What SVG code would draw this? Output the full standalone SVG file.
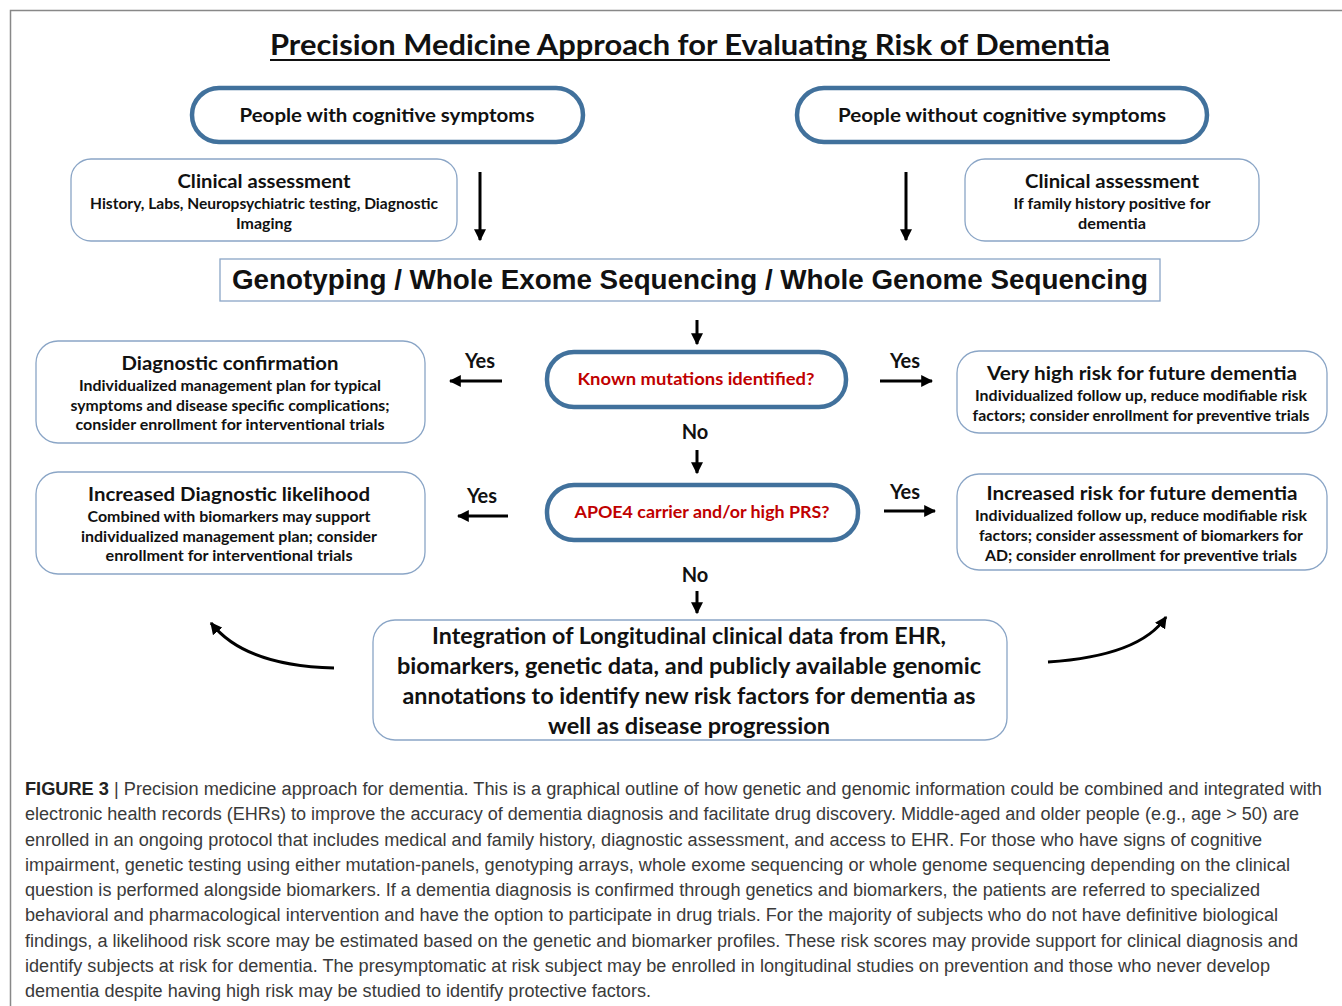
<svg xmlns="http://www.w3.org/2000/svg" width="1342" height="1006" viewBox="0 0 1342 1006">
<defs>
<style>
.c{font-family:Lato,"Open Sans","Liberation Sans",sans-serif;font-weight:bold;fill:#111;text-anchor:middle}
.red{fill:#c00000}
.pill{fill:#fff;stroke:#41719c;stroke-width:4.5}
.box{fill:#fff;stroke:#8aa5c6;stroke-width:1.3}
.arw{stroke:#000;stroke-width:3;fill:none}
.cap{font-family:"Liberation Sans",Arial,sans-serif;font-size:18px;fill:#3a3a3a}
</style>
<marker id="ah" viewBox="0 0 10 10" refX="9" refY="5" markerWidth="4" markerHeight="4" orient="auto" markerUnits="strokeWidth">
<path d="M0,0 L10,5 L0,10 Z" fill="#000"/>
</marker>
</defs>
<rect width="1342" height="1006" fill="#fff"/>
<path d="M10.5,1006 V10.5 H1342" fill="none" stroke="#888" stroke-width="1.5"/>

<g id="title">
<text class="c" x="690" y="55" font-size="29" textLength="840" lengthAdjust="spacingAndGlyphs">Precision Medicine Approach for Evaluating Risk of Dementia</text>
<line x1="270" y1="60" x2="1110" y2="60" stroke="#111" stroke-width="2"/>
</g>

<g id="with-symptoms">
<rect class="pill" x="192" y="88" width="391" height="54" rx="27"/>
<text class="c" x="387" y="122" font-size="19" textLength="295" lengthAdjust="spacingAndGlyphs">People with cognitive symptoms</text>
</g>
<g id="without-symptoms">
<rect class="pill" x="797" y="88" width="410" height="54" rx="27"/>
<text class="c" x="1002" y="122" font-size="19" textLength="328" lengthAdjust="spacingAndGlyphs">People without cognitive symptoms</text>
</g>

<g id="clinical-left">
<rect class="box" x="71" y="159" width="386" height="82" rx="20"/>
<text class="c" x="264" y="188" font-size="19" textLength="173" lengthAdjust="spacingAndGlyphs">Clinical  assessment</text>
<text class="c" x="264" y="209" font-size="14.5" textLength="348" lengthAdjust="spacingAndGlyphs">History, Labs, Neuropsychiatric testing, Diagnostic</text>
<text class="c" x="264" y="229" font-size="14.5" textLength="56" lengthAdjust="spacingAndGlyphs">Imaging</text>
</g>
<g id="clinical-right">
<rect class="box" x="965" y="159" width="294" height="82" rx="20"/>
<text class="c" x="1112" y="188" font-size="19" textLength="174" lengthAdjust="spacingAndGlyphs">Clinical  assessment</text>
<text class="c" x="1112" y="209" font-size="14.5" textLength="197" lengthAdjust="spacingAndGlyphs">If family history positive  for</text>
<text class="c" x="1112" y="229" font-size="14.5" textLength="68" lengthAdjust="spacingAndGlyphs">dementia</text>
</g>

<g id="sequencing">
<rect x="220" y="259" width="940" height="42" fill="#fff" stroke="#8aa5c6" stroke-width="1.3"/>
<text x="690" y="289" font-family="'Liberation Sans',Arial,sans-serif" font-weight="bold" font-size="28" fill="#111" text-anchor="middle" textLength="916" lengthAdjust="spacingAndGlyphs">Genotyping / Whole Exome Sequencing / Whole Genome Sequencing</text>
</g>

<g id="known-mutations">
<rect class="pill" x="547" y="352" width="299" height="55" rx="27" stroke-width="5"/>
<text class="c red" x="696" y="385" font-size="17" textLength="237" lengthAdjust="spacingAndGlyphs">Known mutations identified?</text>
</g>
<g id="apoe4">
<rect class="pill" x="547" y="485" width="311" height="55" rx="27" stroke-width="5"/>
<text class="c red" x="702" y="518" font-size="17" textLength="255" lengthAdjust="spacingAndGlyphs">APOE4 carrier and/or high PRS?</text>
</g>

<g id="diagnostic-confirmation">
<rect class="box" x="36" y="341" width="389" height="102" rx="22"/>
<text class="c" x="230" y="370" font-size="19" textLength="217" lengthAdjust="spacingAndGlyphs">Diagnostic  confirmation</text>
<text class="c" x="230" y="391" font-size="14.5" textLength="302" lengthAdjust="spacingAndGlyphs">Individualized management plan for typical</text>
<text class="c" x="230" y="411" font-size="14.5" textLength="319" lengthAdjust="spacingAndGlyphs">symptoms and disease specific complications;</text>
<text class="c" x="230" y="430" font-size="14.5" textLength="309" lengthAdjust="spacingAndGlyphs">consider enrollment for  interventional trials</text>
</g>
<g id="very-high-risk">
<rect class="box" x="957" y="351" width="370" height="82" rx="22"/>
<text class="c" x="1142" y="380" font-size="19" textLength="310" lengthAdjust="spacingAndGlyphs">Very high risk for future dementia</text>
<text class="c" x="1141" y="401" font-size="14.5" textLength="332" lengthAdjust="spacingAndGlyphs">Individualized follow up, reduce modifiable risk</text>
<text class="c" x="1141" y="421" font-size="14.5" textLength="337" lengthAdjust="spacingAndGlyphs">factors; consider enrollment for preventive trials</text>
</g>
<g id="increased-diagnostic">
<rect class="box" x="36" y="472" width="389" height="102" rx="22"/>
<text class="c" x="229" y="501" font-size="19" textLength="282" lengthAdjust="spacingAndGlyphs">Increased Diagnostic  likelihood</text>
<text class="c" x="229" y="522" font-size="14.5" textLength="283" lengthAdjust="spacingAndGlyphs">Combined with biomarkers may support</text>
<text class="c" x="229" y="542" font-size="14.5" textLength="296" lengthAdjust="spacingAndGlyphs">individualized management plan; consider</text>
<text class="c" x="229" y="561" font-size="14.5" textLength="247" lengthAdjust="spacingAndGlyphs">enrollment for  interventional trials</text>
</g>
<g id="increased-risk">
<rect class="box" x="957" y="474" width="370" height="96" rx="22"/>
<text class="c" x="1142" y="500" font-size="19" textLength="311" lengthAdjust="spacingAndGlyphs">Increased  risk  for  future  dementia</text>
<text class="c" x="1141" y="521" font-size="14.5" textLength="332" lengthAdjust="spacingAndGlyphs">Individualized follow up, reduce modifiable risk</text>
<text class="c" x="1141" y="541" font-size="14.5" textLength="324" lengthAdjust="spacingAndGlyphs">factors; consider assessment of biomarkers for</text>
<text class="c" x="1141" y="561" font-size="14.5" textLength="312" lengthAdjust="spacingAndGlyphs">AD; consider enrollment for preventive trials</text>
</g>

<g id="integration">
<rect class="box" x="373" y="620" width="634" height="120" rx="22"/>
<text class="c" x="689" y="644" font-size="22" textLength="514" lengthAdjust="spacingAndGlyphs">Integration of Longitudinal clinical data from EHR,</text>
<text class="c" x="689" y="674" font-size="22" textLength="584" lengthAdjust="spacingAndGlyphs">biomarkers, genetic data, and publicly available genomic</text>
<text class="c" x="689" y="704" font-size="22" textLength="573" lengthAdjust="spacingAndGlyphs">annotations to identify new risk factors for dementia as</text>
<text class="c" x="689" y="734" font-size="22" textLength="282" lengthAdjust="spacingAndGlyphs">well as disease progression</text>
</g>

<g id="connectors">
<line class="arw" x1="480" y1="172" x2="480" y2="240" marker-end="url(#ah)"/>
<line class="arw" x1="906" y1="172" x2="906" y2="240" marker-end="url(#ah)"/>
<line class="arw" x1="697" y1="320" x2="697" y2="344" marker-end="url(#ah)"/>
<line class="arw" x1="502" y1="381" x2="450" y2="381" marker-end="url(#ah)"/>
<line class="arw" x1="880" y1="381" x2="932" y2="381" marker-end="url(#ah)"/>
<line class="arw" x1="697" y1="450" x2="697" y2="473" marker-end="url(#ah)"/>
<line class="arw" x1="508" y1="516" x2="458" y2="516" marker-end="url(#ah)"/>
<line class="arw" x1="884" y1="511" x2="935" y2="511" marker-end="url(#ah)"/>
<line class="arw" x1="697" y1="591" x2="697" y2="613" marker-end="url(#ah)"/>
<path class="arw" d="M334,668 Q245,666 211,623" stroke-width="3.5" marker-end="url(#ah)"/>
<path class="arw" d="M1048,662 Q1140,656 1166,617" stroke-width="3.5" marker-end="url(#ah)"/>
<text class="c" x="480" y="368" font-size="20">Yes</text>
<text class="c" x="905" y="368" font-size="20">Yes</text>
<text class="c" x="695" y="439" font-size="20">No</text>
<text class="c" x="482" y="503" font-size="20">Yes</text>
<text class="c" x="905" y="499" font-size="20">Yes</text>
<text class="c" x="695" y="582" font-size="20">No</text>
</g>

<g id="caption">
<text class="cap" x="25" y="795" textLength="1297" lengthAdjust="spacingAndGlyphs"><tspan font-weight="bold" fill="#222">FIGURE 3</tspan> | Precision medicine approach for dementia. This is a graphical outline of how genetic and genomic information could be combined and integrated with</text>
<text class="cap" x="25" y="820" textLength="1274" lengthAdjust="spacingAndGlyphs">electronic health records (EHRs) to improve the accuracy of dementia diagnosis and facilitate drug discovery. Middle-aged and older people (e.g., age &gt; 50) are</text>
<text class="cap" x="25" y="846" textLength="1237" lengthAdjust="spacingAndGlyphs">enrolled in an ongoing protocol that includes medical and family history, diagnostic assessment, and access to EHR. For those who have signs of cognitive</text>
<text class="cap" x="25" y="871" textLength="1265" lengthAdjust="spacingAndGlyphs">impairment, genetic testing using either mutation-panels, genotyping arrays, whole exome sequencing or whole genome sequencing depending on the clinical</text>
<text class="cap" x="25" y="896" textLength="1235" lengthAdjust="spacingAndGlyphs">question is performed alongside biomarkers. If a dementia diagnosis is confirmed through genetics and biomarkers, the patients are referred to specialized</text>
<text class="cap" x="25" y="921" textLength="1253" lengthAdjust="spacingAndGlyphs">behavioral and pharmacological intervention and have the option to participate in drug trials. For the majority of subjects who do not have definitive biological</text>
<text class="cap" x="25" y="947" textLength="1273" lengthAdjust="spacingAndGlyphs">findings, a likelihood risk score may be estimated based on the genetic and biomarker profiles. These risk scores may provide support for clinical diagnosis and</text>
<text class="cap" x="25" y="972" textLength="1245" lengthAdjust="spacingAndGlyphs">identify subjects at risk for dementia. The presymptomatic at risk subject may be enrolled in longitudinal studies on prevention and those who never develop</text>
<text class="cap" x="25" y="997" textLength="626" lengthAdjust="spacingAndGlyphs">dementia despite having high risk may be studied to identify protective factors.</text>
</g>
</svg>
